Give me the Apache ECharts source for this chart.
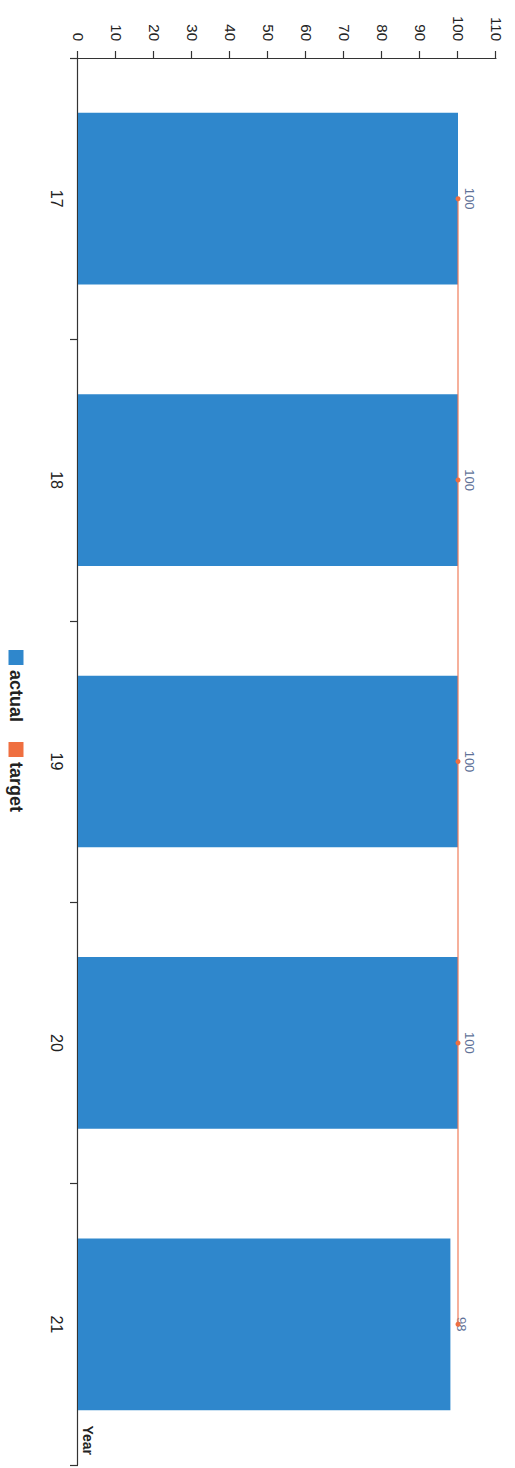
<!DOCTYPE html>
<html>
<head>
<meta charset="utf-8">
<script src="https://cdn.jsdelivr.net/npm/echarts@6/dist/echarts.min.js"></script>
<style>
  html, body { margin: 0; padding: 0; background: #ffffff; width: 515px; height: 1468px; overflow: hidden; }
  #chart {
    position: absolute; left: 0; top: 0;
    width: 1468px; height: 515px;
    transform-origin: 0 0;
    transform: translate(515px, 0) rotate(90deg);
  }
</style>
</head>
<body>
<div id="chart"></div>
<script>
// Data
const categories = ['17', '18', '19', '20', '21'];
const actual = [100, 100, 100, 100, 98];
const target = [100, 100, 100, 100, 100];
const valueMin = 0;
const valueMax = 110;
const valueInterval = 10;
const seriesNames = ['actual', 'target'];
const axisName = 'Year';

const chart = echarts.init(document.getElementById('chart'), null, { renderer: 'svg' });

chart.setOption({
  backgroundColor: '#ffffff',
  animation: false,
  textStyle: { fontFamily: 'Liberation Sans, Arial, sans-serif' },
  legend: {
    data: seriesNames,
    left: 645,
    top: 485,
    icon: 'rect',
    itemWidth: 15,
    itemHeight: 15,
    itemGap: 20,
    textStyle: { fontFamily: 'Liberation Sans, Arial, sans-serif', fontSize: 18, fontWeight: 'bold', color: '#222' }
  },
  grid: { left: 58, right: 3, top: 19, bottom: 78, containLabel: false },
  xAxis: {
    type: 'category',
    data: categories,
    boundaryGap: true,
    name: axisName,
    nameLocation: 'end',
    nameGap: -10,
    nameTextStyle: { fontFamily: 'Liberation Sans, Arial, sans-serif', fontSize: 14, fontWeight: 'bold', color: '#222', align: 'right', verticalAlign: 'bottom', padding: [0, 0, 3, 0] },
    axisLine: { show: true, lineStyle: { color: '#333', width: 1.2 } },
    axisTick: { show: true, length: 8, lineStyle: { color: '#333', width: 1.2 } },
    axisLabel: { margin: 14, fontSize: 16, color: '#222', fontFamily: 'Liberation Sans, Arial, sans-serif' },
    splitLine: { show: false }
  },
  yAxis: {
    type: 'value',
    min: valueMin,
    max: valueMax,
    interval: valueInterval,
    axisLine: { show: true, lineStyle: { color: '#333', width: 1.2 } },
    axisTick: { show: true, length: 7, lineStyle: { color: '#333', width: 1.2 } },
    axisLabel: { margin: 17, fontSize: 15, color: '#222', fontFamily: 'Liberation Sans, Arial, sans-serif' },
    splitLine: { show: false }
  },
  series: [
    {
      name: seriesNames[0],
      type: 'bar',
      data: actual,
      barWidth: '61%',
      itemStyle: { color: '#2f87cc' },
      label: { show: true, position: 'top', distance: 5, fontSize: 13, color: '#5f7298', fontFamily: 'Liberation Sans, Arial, sans-serif' },
      z: 2
    },
    {
      name: seriesNames[1],
      type: 'line',
      data: target,
      symbol: 'circle',
      symbolSize: 5,
      showSymbol: true,
      itemStyle: { color: '#ef6f40' },
      lineStyle: { color: '#f07c5a', width: 1.2 },
      label: { show: false },
      z: 3
    }
  ]
});
</script>
</body>
</html>
